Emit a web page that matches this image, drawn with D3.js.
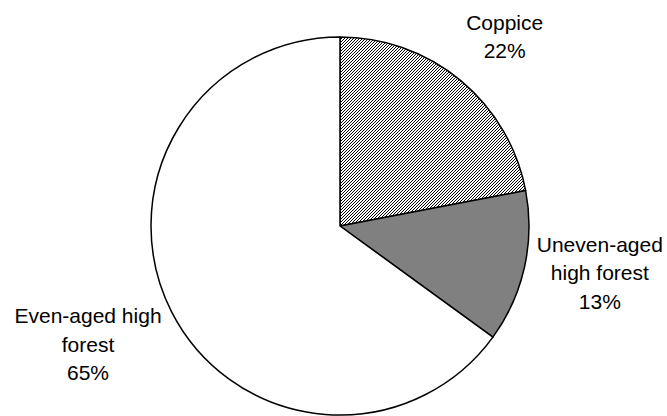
<!DOCTYPE html>
<html>
<head>
<meta charset="utf-8">
<script src="https://cdnjs.cloudflare.com/ajax/libs/d3/7.8.5/d3.min.js"></script>
<style>
  html, body { margin: 0; padding: 0; background: #fff; }
  svg { display: block; }
</style>
</head>
<body>
<div id="chart"></div>
<script>
// chart data
var categories = ["Coppice", "Uneven-aged high forest", "Even-aged high forest"];
var values = [22, 13, 65];
var labelLines = [["Coppice", "22%"], ["Uneven-aged", "high forest", "13%"], ["Even-aged high", "forest", "65%"]];

// label placement (polar: degrees clockwise from 12 o'clock, radius)
var labelAngle = [41, 100.2, 244.8];
var labelRadius = [251, 264, 278.5];

var width = 667, height = 416;
var cx = 340, cy = 226, radius = 189;
var fontSize = 21, lineH = 28.5;

var svg = d3.select("#chart")
  .append("svg")
  .attr("width", width)
  .attr("height", height);

// hatch pattern for coppice
var defs = svg.append("defs");
var pat = defs.append("pattern")
  .attr("id", "hatch")
  .attr("patternUnits", "userSpaceOnUse")
  .attr("width", 3)
  .attr("height", 3);
pat.append("rect").attr("width", 3).attr("height", 3).attr("fill", "#fff");
[[2, 0], [1, 1], [0, 2]].forEach(function(p) {
  pat.append("rect").attr("x", p[0]).attr("y", p[1]).attr("width", 1).attr("height", 1).attr("fill", "#000");
});

var fills = ["url(#hatch)", "#808080", "#ffffff"];

var pie = d3.pie().sort(null).value(function(d) { return d; });
var arc = d3.arc().innerRadius(0).outerRadius(radius);

var g = svg.append("g").attr("transform", "translate(" + cx + "," + cy + ")");

g.selectAll("path")
  .data(pie(values))
  .enter()
  .append("path")
    .attr("d", arc)
    .attr("fill", function(d, i) { return fills[i]; })
    .attr("stroke", "#000")
    .attr("stroke-width", 1.5)
    .attr("stroke-linejoin", "round");

// labels
var labels = g.selectAll("text.lbl")
  .data(categories)
  .enter()
  .append("text")
    .attr("class", "lbl")
    .attr("text-anchor", "middle")
    .style("font-family", "'Liberation Sans', Arial, sans-serif")
    .style("font-size", fontSize + "px")
    .attr("fill", "#000")
    .each(function(d, i) {
      var a = labelAngle[i] * Math.PI / 180;
      var x = labelRadius[i] * Math.sin(a);
      var y = -labelRadius[i] * Math.cos(a);
      var lines = labelLines[i];
      var n = lines.length;
      var t = d3.select(this);
      lines.forEach(function(line, k) {
        t.append("tspan")
          .attr("x", x)
          .attr("y", y + (k - (n - 1) / 2) * lineH + 0.35 * fontSize)
          .text(line);
      });
    });
</script>
</body>
</html>
